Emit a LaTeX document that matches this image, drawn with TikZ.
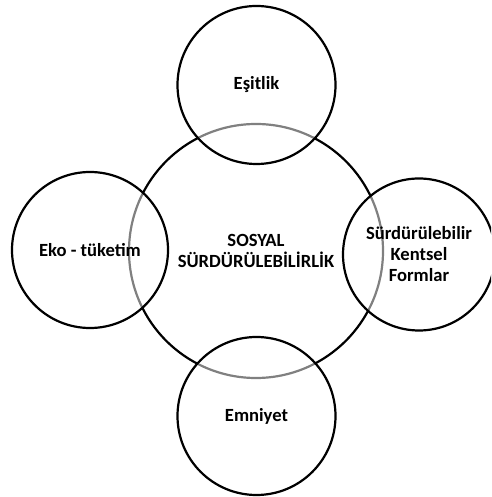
\documentclass[tikz,border=0pt]{standalone}
\usepackage{fontspec}
\setmainfont{Carlito}
\begin{document}
\begin{tikzpicture}[x=1pt,y=1pt,
  ring/.style={circle, draw=black, line width=2.2pt, inner sep=0pt,
    font=\bfseries\fontsize{18.6}{21}\selectfont, align=center},
  petal/.style={ring, fill=white, fill opacity=0.5, draw opacity=1, text opacity=1}]
\clip (0,0) rectangle (491,497);
% central circle
\node[ring, minimum size=254pt] (core) at (256,246) {SOSYAL\\SÜRDÜRÜLEBİLİRLİK};
% surrounding circles, half-transparent so the central ring shows grey inside them
\node[petal, minimum size=158pt] (top) at (256.5,412) {Eşitlik};
\node[petal, minimum size=156pt] (left) at (90,247) {Eko - tüketim};
\node[petal, minimum size=152pt] (right) at (419,242.5) {Sürdürülebilir\\Kentsel\\Formlar};
\node[petal, minimum size=158pt] (bottom) at (256.5,81) {Emniyet};
\end{tikzpicture}
\end{document}
